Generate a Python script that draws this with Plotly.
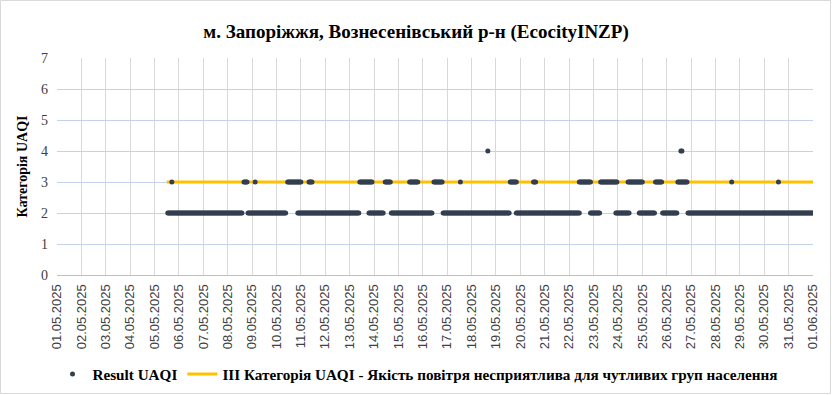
import pandas as pd
import plotly.graph_objects as go

TITLE = "м. Запоріжжя, Вознесенівський р-н (EcocityINZP)"
Y_TITLE = "Категорія UAQI"
SERIES_NAME = "Result UAQI"
LIMIT_NAME = "III Категорія UAQI - Якість повітря несприятлива для чутливих груп населення"

# hourly readings, stored as runs of equal category (start, end inclusive)
RUNS_CAT2 = [
    ("2025-05-05 13:00", "2025-05-08 14:00"),
    ("2025-05-08 20:00", "2025-05-10 09:00"),
    ("2025-05-10 21:00", "2025-05-13 09:00"),
    ("2025-05-13 19:00", "2025-05-14 09:00"),
    ("2025-05-14 17:00", "2025-05-16 09:00"),
    ("2025-05-16 20:00", "2025-05-19 13:00"),
    ("2025-05-19 20:00", "2025-05-22 10:00"),
    ("2025-05-22 21:00", "2025-05-23 06:00"),
    ("2025-05-23 22:00", "2025-05-24 11:00"),
    ("2025-05-24 21:00", "2025-05-25 12:00"),
    ("2025-05-25 20:00", "2025-05-26 10:00"),
    ("2025-05-26 21:00", "2025-06-01 00:00"),
]
RUNS_CAT3 = [
    ("2025-05-05 17:00", "2025-05-05 17:00"),
    ("2025-05-08 16:00", "2025-05-08 19:00"),
    ("2025-05-09 03:00", "2025-05-09 03:00"),
    ("2025-05-10 11:00", "2025-05-11 00:00"),
    ("2025-05-11 08:00", "2025-05-11 11:00"),
    ("2025-05-13 10:00", "2025-05-13 22:00"),
    ("2025-05-14 11:00", "2025-05-14 16:00"),
    ("2025-05-15 11:00", "2025-05-15 19:00"),
    ("2025-05-16 11:00", "2025-05-16 19:00"),
    ("2025-05-17 13:00", "2025-05-17 13:00"),
    ("2025-05-19 14:00", "2025-05-19 20:00"),
    ("2025-05-20 13:00", "2025-05-20 15:00"),
    ("2025-05-22 10:00", "2025-05-22 21:00"),
    ("2025-05-23 07:00", "2025-05-23 23:00"),
    ("2025-05-24 10:00", "2025-05-25 00:00"),
    ("2025-05-25 13:00", "2025-05-25 19:00"),
    ("2025-05-26 11:00", "2025-05-26 20:00"),
    ("2025-05-28 16:00", "2025-05-28 16:00"),
    ("2025-05-30 14:00", "2025-05-30 14:00"),
]
RUNS_CAT4 = [
    ("2025-05-18 16:00", "2025-05-18 16:00"),
    ("2025-05-26 14:00", "2025-05-26 15:00"),
]
LIMIT_VALUE = 3
LIMIT_X = ["2025-05-05 12:00", "2025-06-01 00:00"]
X_RANGE = ["2025-05-01", "2025-06-01"]
Y_TICKS = [0, 1, 2, 3, 4, 5, 6, 7]

xs, ys = [], []
for value, runs in ((2, RUNS_CAT2), (3, RUNS_CAT3), (4, RUNS_CAT4)):
    for a, b in runs:
        for t in pd.date_range(a, b, freq="h"):
            xs.append(t)
            ys.append(value)

fig = go.Figure()
fig.add_trace(go.Scatter(
    x=LIMIT_X, y=[LIMIT_VALUE] * len(LIMIT_X), mode="lines", name=LIMIT_NAME,
    line=dict(color="#FFC000", width=3), legendrank=2,
))
fig.add_trace(go.Scatter(
    x=xs, y=ys, mode="markers", name=SERIES_NAME,
    marker=dict(color="#333F50", size=5), legendrank=1,
))

serif = "Liberation Serif"
PW, PH = 756, 217
fig.update_layout(
    width=832, height=395,
    margin=dict(l=57, r=19, t=58, b=120, autoexpand=False),
    paper_bgcolor="white", plot_bgcolor="white",
    title=dict(text="<b>" + TITLE + "</b>", x=0.5, xanchor="center", y=1 - 31 / 395, yanchor="middle",
               font=dict(family=serif, size=19, color="#000000")),
    showlegend=True,
    legend=dict(orientation="h", x=(418 - 57) / PW, xanchor="center", y=-(374 - 275) / PH, yanchor="middle",
                font=dict(family=serif, size=15.2, color="#000000", weight="bold"), traceorder="normal",
                itemwidth=30),
    xaxis=dict(
        type="date", range=X_RANGE, dtick=86400000, tick0="2025-05-01",
        tickformat="%d.%m.%Y", tickangle=-90,
        tickfont=dict(family="Liberation Sans", size=13, color="#404040"),
        showgrid=True, gridcolor="#D9D9D9", gridwidth=1,
        showline=True, linecolor="#BFBFBF", linewidth=1, ticks="", zeroline=False,
        automargin=False, ticklabelstandoff=3,
    ),
    yaxis=dict(
        range=[0, 7], tickvals=Y_TICKS,
        tickfont=dict(family=serif, size=14, color="#404040"),
        title=dict(text="<b>" + Y_TITLE + "</b>", font=dict(family=serif, size=14, color="#000000"), standoff=10),
        showgrid=True, gridcolor="#C5D3EA", gridwidth=1,
        showline=False, zeroline=False, ticks="", automargin=False, ticklabelstandoff=8,
    ),
    shapes=[dict(type="rect", xref="paper", yref="paper",
                 x0=-56.5 / PW, x1=1 + 17.5 / PW, y0=-118.5 / PH, y1=1 + 57.5 / PH,
                 line=dict(color="#D9D9D9", width=1), fillcolor="rgba(0,0,0,0)", layer="below")],
)

fig.write_html("out.html", config={"displayModeBar": False},
               post_script="document.body.style.margin='0';")
